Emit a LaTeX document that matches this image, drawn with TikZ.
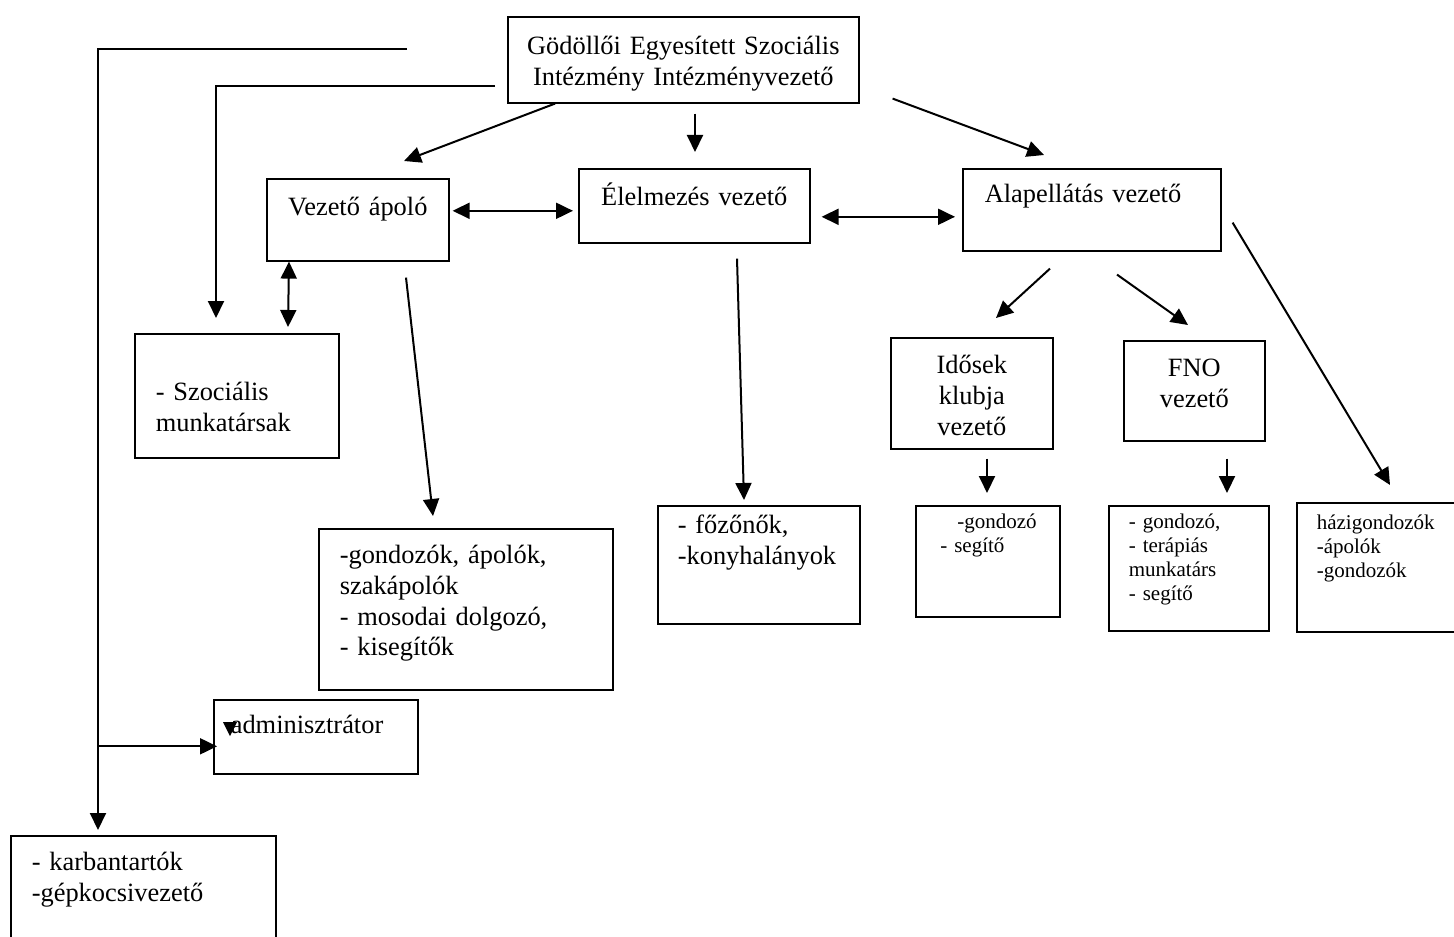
\documentclass[tikz,border=0pt]{standalone}
\usepackage{fontspec}
\setmainfont{Liberation Serif}
\usetikzlibrary{calc,arrows.meta}
\hyphenpenalty=10000
\tikzset{
% Two box styles for the chart: big names and small staff lists
box/.style={draw,line width=0.8pt,anchor=north west,inner ysep=0pt},
small box/.style={box,font=\fontsize{10.5}{12}\selectfont},
link/.style={line width=1pt,-{Triangle[length=8.5pt,width=8pt]}},
both link/.style={line width=1pt,{Triangle[length=8.5pt,width=8pt]}-{Triangle[length=8.5pt,width=8pt]}}
}

\begin{document}
\begin{tikzpicture}[x=0.5pt,y=-0.5pt,font=\fontsize{13.2}{15.3}\selectfont]
\clip (0,0) rectangle (1454,936);
% The leaders
\node(head)[box,text width=169.5pt,inner xsep=3pt,align=center,text height=19pt,text depth=24pt] at (507,16) {Gödöllői Egyesített Szociális\\Intézmény Intézményvezető};
\node(vap)[box,text width=85pt,inner xsep=3pt,align=center,text height=18.5pt,text depth=22.5pt] at (266,178) {Vezető ápoló};
\node(elel)[box,text width=109.5pt,inner xsep=3pt,align=center,text height=18.5pt,text depth=18.5pt] at (578,168) {Élelmezés vezető};
\node(alap)[box,text width=107pt,inner xsep=11pt,align=left,text height=17pt,text depth=24pt] at (962,168) {Alapellátás vezető};
\node(ido)[box,text width=75pt,inner xsep=3pt,align=center,text height=18pt,text depth=37.5pt] at (890,337) {Idősek\\klubja\\vezető};
\node(fno)[box,text width=64.5pt,inner xsep=3pt,align=center,text height=18pt,text depth=32pt] at (1123,340) {FNO\\vezető};
% The staff
\node(szoc)[box,text width=81pt,inner xsep=10.5pt,align=left,text height=33.5pt,text depth=28.5pt] at (134,333) {- Szociális\\munkatársak};
\node(gond)[box,text width=126pt,inner xsep=10.5pt,align=left,text height=17.5pt,text depth=63pt] at (318,528) {-gondozók, ápolók,\\szakápolók\\- mosodai dolgozó,\\- kisegítők};
\node(adm)[box,text width=85pt,inner xsep=8.5pt,align=left,text height=17pt,text depth=20pt] at (213,699) {adminisztrátor};
\node(karb)[box,text width=111.5pt,inner xsep=10.5pt,align=left,text height=17.5pt,text depth=45pt] at (10,835) {- karbantartók\\-gépkocsivezető};
\node(fozo)[box,text width=81pt,inner xsep=10pt,align=left,text height=14pt,text depth=45pt] at (657,505) {- főzőnők,\\-konyhalányok};
\node(gs)[small box,text width=55pt,inner xsep=8.5pt,align=left,text height=11.5pt,text depth=44pt] at (915,505) {\hspace*{12.25pt}-gondozó\\\hspace*{3.75pt}- segítő};
\node(ter)[small box,text width=60pt,inner xsep=10pt,align=left,text height=11.5pt,text depth=51pt] at (1108,505) {- gondozó,\\- terápiás\\munkatárs\\- segítő};
\node(hazi)[small box,text width=80pt,inner xsep=10pt,align=left,text height=13.5pt,text depth=51pt] at (1296,502) {házigondozók\\-ápolók\\-gondozók};
\fill ($(adm.north west)+(10,23)$) -- ++(14,0) -- ++(-7,14) -- cycle;
% The links
\draw[link] ($(head.west)+(-100,-11)$) -| ($(karb.north west)+(88,-5)$);
\draw[link] ($(adm.west)+(-114,9.5)$) -- ($(adm.west)+(4,9.5)$);
\draw[link] ($(head.west)+(-12,26)$) -| ($(szoc.north west)+(82,-15)$);
\draw[both link] ($(vap.south west)+(23,0)$) -- ($(szoc.north west)+(154,-6)$);
\draw[link] ($(head.south west)+(48,0)$) -- ($(vap.north west)+(138,-17)$);
\draw[link] ($(head.south west)+(188,10)$) -- ($(elel.north west)+(117,-16)$);
\draw[link] ($(head.south east)+(33,-5)$) -- ($(alap.north west)+(82,-13)$);
\draw[both link] ($(vap.east)+(3,-9)$) -- ($(elel.west)+(-5,5)$);
\draw[both link] ($(elel.east)+(11,11)$) -- ($(alap.west)+(-7,7)$);
\draw[link] ($(vap.south west)+(140,16)$) -- ($(gond.north west)+(115,-12)$);
\draw[link] ($(elel.south west)+(159,15)$) -- ($(fozo.north west)+(87,-5)$);
\draw[link] ($(alap.south west)+(88,17)$) -- ($(ido.north west)+(106,-19)$);
\draw[link] ($(alap.south west)+(155,23)$) -- ($(fno.north west)+(65,-15)$);
\draw[link] ($(alap.south east)+(11,-29)$) -- ($(hazi.north west)+(94,-17)$);
\draw[link] ($(ido.south west)+(97,9)$) -- ($(gs.north west)+(72,-12)$);
\draw[link] ($(fno.south west)+(104,17)$) -- ($(ter.north west)+(119,-12)$);
\end{tikzpicture}
\end{document}
